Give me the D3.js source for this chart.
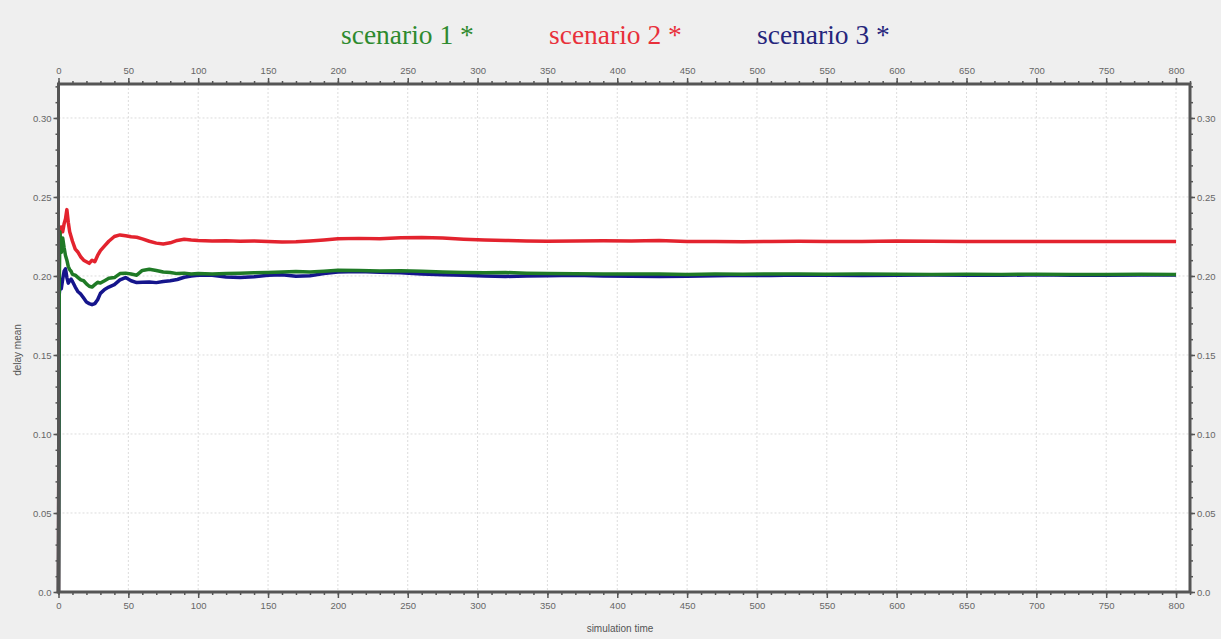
<!DOCTYPE html>
<html lang="en">
<head>
  <meta charset="UTF-8">
  <title>delay mean</title>
  <style>
    body { margin: 0; background: #efefef; }
    svg { display: block; }
    .tick text { font-family: Arial, sans-serif; font-size: 9.5px; fill: #666; }
  </style>
</head>
<body>
  <script src="https://d3js.org/d3.v7.min.js"></script>
  <script>
    // simulation time points
    let times = [
      0, 0.5, 1, 2, 3, 4, 5, 6, 7, 8,
      9, 10, 12, 14, 16, 18, 20, 22, 24, 26,
      28, 30, 33, 36, 40, 44, 48, 52, 56, 60,
      65, 70, 75, 80, 85, 90, 95, 100, 110, 120,
      130, 140, 150, 160, 170, 180, 190, 200, 215, 230,
      245, 260, 275, 290, 305, 320, 335, 350, 370, 390,
      410, 430, 450, 470, 490, 510, 530, 550, 575, 600,
      625, 650, 675, 700, 725, 750, 775, 800
    ];

    // scenario 1 (green)
    let scenario1 = [
      0, 0.19, 0.228, 0.215, 0.224, 0.218, 0.213, 0.21, 0.206, 0.204,
      0.203, 0.201, 0.2005, 0.199, 0.1975, 0.197, 0.195, 0.1935, 0.193, 0.1945,
      0.196, 0.1955, 0.197, 0.1985, 0.199, 0.2015, 0.2018, 0.2012, 0.2005, 0.2035,
      0.2042, 0.2035, 0.2025, 0.2022, 0.2015, 0.2018, 0.2012, 0.2015, 0.2012, 0.2015,
      0.2017, 0.202, 0.2022, 0.2025, 0.2028, 0.2025, 0.203, 0.2036, 0.2034, 0.2032,
      0.2033, 0.203, 0.2025, 0.2022, 0.202, 0.2022, 0.2018, 0.2015, 0.2014, 0.2012,
      0.2012, 0.2013, 0.201, 0.2012, 0.2011, 0.2013, 0.2012, 0.2011, 0.2012, 0.2011,
      0.201, 0.2011, 0.201, 0.2011, 0.201, 0.201, 0.2011, 0.201
    ];

    // scenario 2 (red)
    let scenario2 = [
      0, 0.229, 0.226, 0.231, 0.228, 0.233, 0.236, 0.242, 0.234, 0.228,
      0.225, 0.222, 0.217, 0.215, 0.212, 0.21, 0.209, 0.208, 0.21, 0.209,
      0.213, 0.216, 0.219, 0.222, 0.225, 0.226, 0.2255, 0.2248, 0.2245, 0.2235,
      0.222, 0.2208, 0.2203, 0.221, 0.2225, 0.2232, 0.2228, 0.2225, 0.2222, 0.2223,
      0.222, 0.2222, 0.2218, 0.2215, 0.2217, 0.2222, 0.2228, 0.2235, 0.2238, 0.2236,
      0.2242, 0.2243, 0.224, 0.2233, 0.2228, 0.2225, 0.2222, 0.222, 0.2222, 0.2223,
      0.2221, 0.2224, 0.2219, 0.2218, 0.2217, 0.2219, 0.222, 0.2218, 0.2219, 0.2222,
      0.222, 0.2218, 0.2219, 0.2218, 0.2218, 0.2219, 0.2218, 0.2218
    ];

    // scenario 3 (blue)
    let scenario3 = [
      0, 0.188, 0.193, 0.192, 0.198, 0.203, 0.2045, 0.199, 0.1955, 0.197,
      0.198, 0.1965, 0.193, 0.19, 0.1885, 0.186, 0.1835, 0.1825, 0.1818, 0.1825,
      0.185, 0.189, 0.1915, 0.193, 0.1945, 0.1975, 0.199, 0.197, 0.1958, 0.196,
      0.1962, 0.1958, 0.1965, 0.197, 0.1978, 0.1992, 0.2, 0.2005, 0.2004, 0.1993,
      0.199, 0.1995, 0.2005, 0.2008, 0.1998, 0.2002, 0.2015, 0.2025, 0.2028, 0.2024,
      0.202, 0.2012, 0.2008, 0.2005, 0.2, 0.1997, 0.2, 0.2002, 0.2004, 0.2,
      0.1998, 0.1996, 0.1998, 0.2002, 0.2005, 0.2003, 0.2006, 0.2004, 0.2003, 0.2004,
      0.2006, 0.2005, 0.2004, 0.2007, 0.2005, 0.2004, 0.2006, 0.2006
    ];

    let legendLabels = ["scenario 1 *", "scenario 2 *", "scenario 3 *"];
    let xTicks = d3.range(0, 801, 50);
    let yTicks = [0, 0.05, 0.10, 0.15, 0.20, 0.25, 0.30];

    let svgWidth = 1221;
    let svgHeight = 639;
    let plotLeft = 58.5, plotRight = 1190, plotTop = 84, plotBottom = 592;

    let svg = d3.select("body")
      .append("svg")
      .attr("width", svgWidth)
      .attr("height", svgHeight);

    svg.append("rect")
      .attr("width", svgWidth)
      .attr("height", svgHeight)
      .attr("fill", "#efefef");

    let x = d3.scaleLinear().domain([0, 810]).range([plotLeft, plotRight]);
    let y = d3.scaleLinear().domain([0, 0.3215]).range([plotBottom, plotTop]);

    // plot background
    svg.append("rect")
      .attr("x", plotLeft).attr("y", plotTop)
      .attr("width", plotRight - plotLeft).attr("height", plotBottom - plotTop)
      .attr("fill", "white");

    // grid lines
    let grid = svg.append("g");
    grid.selectAll(".vg")
      .data(xTicks.slice(1))
      .join("line")
      .attr("x1", d => x(d)).attr("x2", d => x(d))
      .attr("y1", plotTop).attr("y2", plotBottom)
      .attr("stroke", "#dcdcdc")
      .attr("stroke-dasharray", "2,2");
    grid.selectAll(".hg")
      .data(yTicks.slice(1))
      .join("line")
      .attr("x1", plotLeft).attr("x2", plotRight)
      .attr("y1", d => y(d)).attr("y2", d => y(d))
      .attr("stroke", "#dcdcdc")
      .attr("stroke-dasharray", "2,2");

    // lines
    let series = [
      { values: scenario2, color: "#e3232e" },
      { values: scenario3, color: "#15158c" },
      { values: scenario1, color: "#1f7a26" }
    ];
    let line = d3.line()
      .x((d, i) => x(times[i]))
      .y(d => y(d));
    series.forEach(s => {
      svg.append("path")
        .attr("d", line(s.values))
        .attr("fill", "none")
        .attr("stroke", s.color)
        .attr("stroke-width", 3.5)
        .attr("stroke-linejoin", "round");
    });

    // minor tick axes
    let xMinor = d3.range(0, 811, 10);
    let yMinor = d3.range(0, 0.321, 0.01);
    function styleAxis(g) {
      g.select(".domain").remove();
      g.selectAll(".tick line").attr("stroke", "#555").attr("stroke-width", 1.5);
    }
    svg.append("g").attr("transform", "translate(0," + plotBottom + ")")
      .call(d3.axisBottom(x).tickValues(xMinor).tickSize(3).tickFormat(""))
      .call(styleAxis);
    svg.append("g").attr("transform", "translate(0," + plotTop + ")")
      .call(d3.axisTop(x).tickValues(xMinor).tickSize(3).tickFormat(""))
      .call(styleAxis);
    svg.append("g").attr("transform", "translate(" + plotLeft + ",0)")
      .call(d3.axisLeft(y).tickValues(yMinor).tickSize(3).tickFormat(""))
      .call(styleAxis);
    svg.append("g").attr("transform", "translate(" + plotRight + ",0)")
      .call(d3.axisRight(y).tickValues(yMinor).tickSize(3).tickFormat(""))
      .call(styleAxis);

    // major tick axes
    let yFormat = d => d === 0 ? "0.0" : d3.format(".2f")(d);
    svg.append("g").attr("transform", "translate(0," + plotBottom + ")")
      .call(d3.axisBottom(x).tickValues(xTicks).tickSize(6).tickPadding(4))
      .call(styleAxis);
    svg.append("g").attr("transform", "translate(0," + plotTop + ")")
      .call(d3.axisTop(x).tickValues(xTicks).tickSize(6).tickPadding(4))
      .call(styleAxis);
    svg.append("g").attr("transform", "translate(" + plotLeft + ",0)")
      .call(d3.axisLeft(y).tickValues(yTicks).tickSize(5).tickPadding(2).tickFormat(yFormat))
      .call(styleAxis);
    svg.append("g").attr("transform", "translate(" + plotRight + ",0)")
      .call(d3.axisRight(y).tickValues(yTicks).tickSize(5).tickPadding(2).tickFormat(yFormat))
      .call(styleAxis);

    // frame
    svg.append("rect")
      .attr("x", plotLeft).attr("y", plotTop)
      .attr("width", plotRight - plotLeft).attr("height", plotBottom - plotTop)
      .attr("fill", "none")
      .attr("stroke", "#555")
      .attr("stroke-width", 3);

    // axis titles
    svg.append("text")
      .attr("x", 620).attr("y", 632)
      .attr("text-anchor", "middle")
      .style("font-family", "Arial, sans-serif")
      .style("font-size", "10px")
      .style("fill", "#555")
      .text("simulation time");
    svg.append("text")
      .attr("transform", "translate(21,350) rotate(-90)")
      .attr("text-anchor", "middle")
      .style("font-family", "Arial, sans-serif")
      .style("font-size", "10px")
      .style("fill", "#555")
      .text("delay mean");

    // legend
    let legendColors = ["#2e8a2e", "#e8303a", "#25257c"];
    let legendX = [341, 549, 757];
    svg.selectAll(".legend")
      .data(legendLabels)
      .join("text")
      .attr("x", (d, i) => legendX[i])
      .attr("y", 44)
      .style("font-family", "'Liberation Serif', 'Times New Roman', serif")
      .style("font-size", "27.5px")
      .style("fill", (d, i) => legendColors[i])
      .text(d => d);
  </script>
</body>
</html>
